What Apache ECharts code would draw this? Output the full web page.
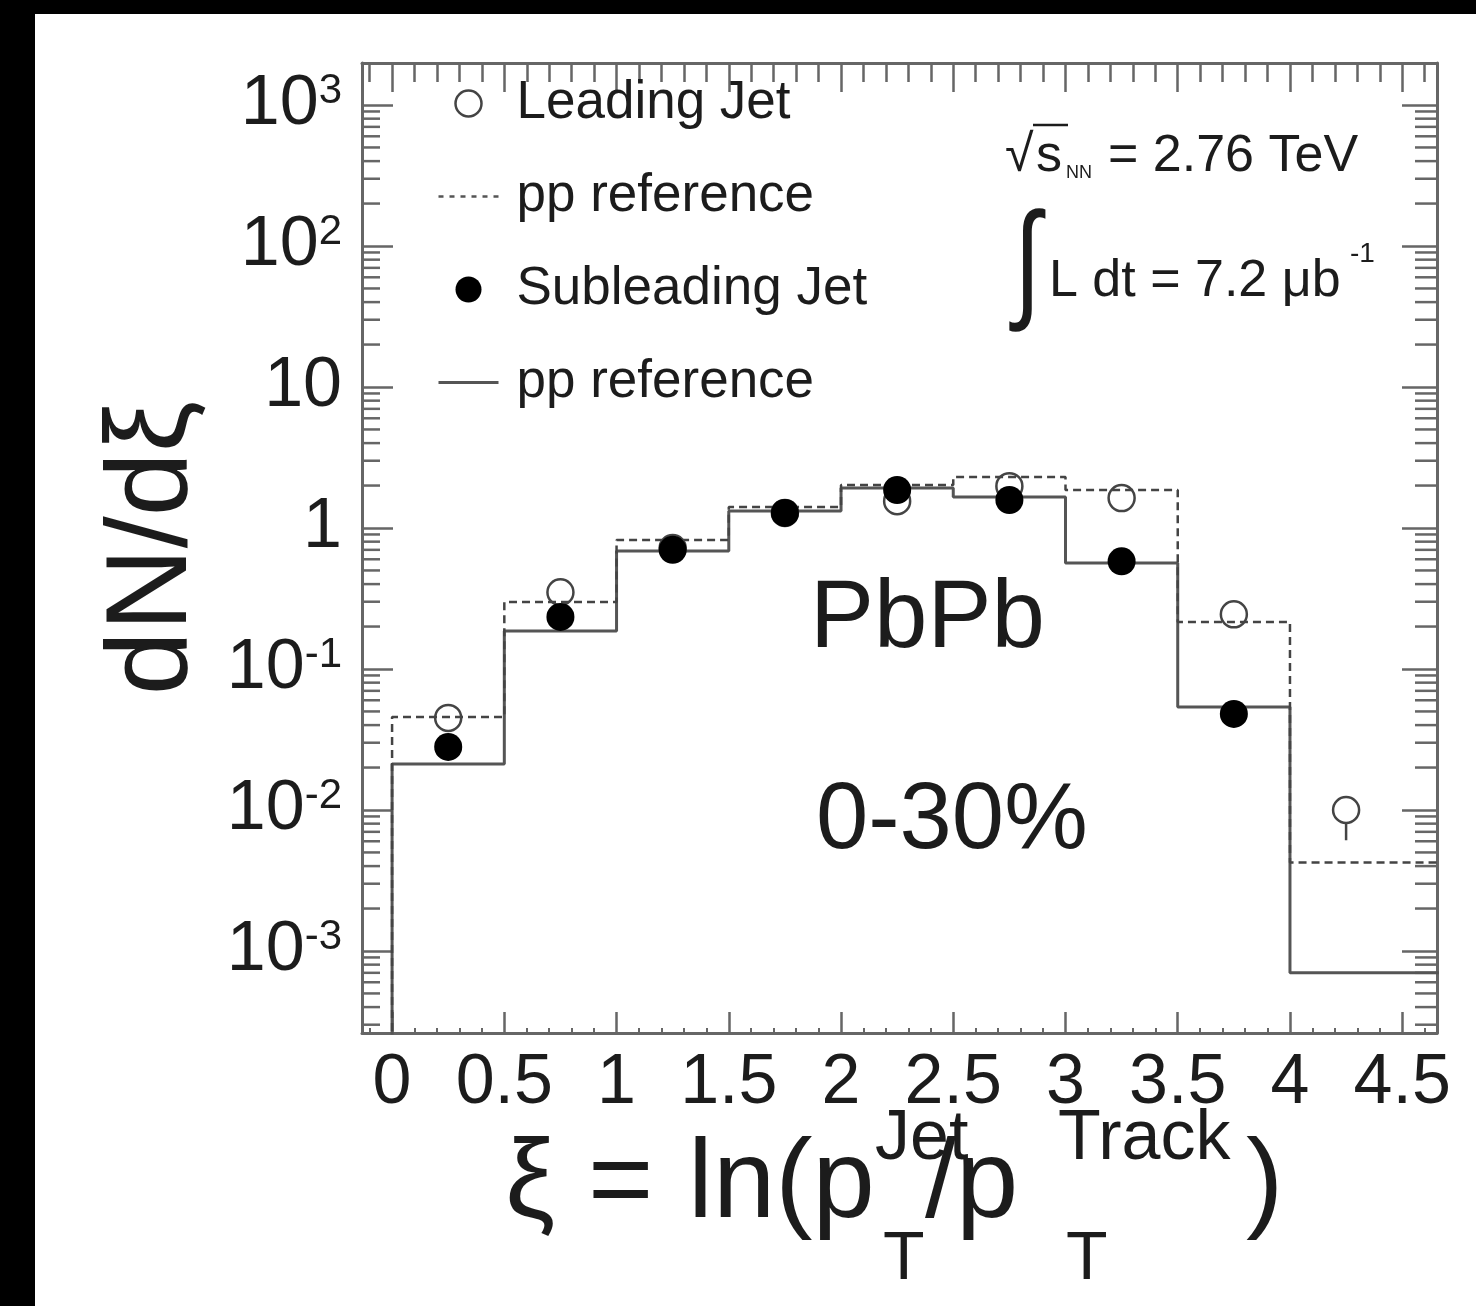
<!DOCTYPE html>
<html><head><meta charset="utf-8">
<script src="https://cdn.jsdelivr.net/npm/echarts@6/dist/echarts.min.js"></script>
<style>html,body{margin:0;padding:0;background:#000;} #chart{width:1476px;height:1306px;}</style>
</head><body><div id="chart"></div>
<script>
// ---- data ----
const binEdges = [0, 0.5, 1, 1.5, 2, 2.5, 3, 3.5, 4, 5];
const binCenters = [0.25, 0.75, 1.25, 1.75, 2.25, 2.75, 3.25, 3.75, 4.25];
const leadingJet = [0.045, 0.35, 0.72, 1.28, 1.55, 1.98, 1.63, 0.244, 0.0100];
const leadingErrLow = [null, null, null, null, null, null, null, null, 0.0061];
const subleadingJet = [0.028, 0.234, 0.70, 1.28, 1.86, 1.58, 0.58, 0.048, null];
const leadingPP = [0.0457, 0.299, 0.822, 1.41, 2.02, 2.30, 1.86, 0.215, 0.00424];
const subleadingPP = [0.0212, 0.186, 0.687, 1.32, 1.92, 1.66, 0.565, 0.0537, 0.000702];
const xTickValues = [0, 0.5, 1, 1.5, 2, 2.5, 3, 3.5, 4, 4.5];
const xTickLabels = ['0', '0.5', '1', '1.5', '2', '2.5', '3', '3.5', '4', '4.5'];
const yTickExponents = [-3, -2, -1, 0, 1, 2, 3];
const yTickLabels = ['{b|10}{s|-3}', '{b|10}{s|-2}', '{b|10}{s|-1}', '{b|1}', '{b|10}', '{b|10}{s|2}', '{b|10}{s|3}'];
const yMinorMantissas = [2, 3, 4, 5, 6, 7, 8, 9];
const yMinorDecades = [-4, -3, -2, -1, 0, 1, 2, 3];

const X_MIN = -0.134, X_MAX = 4.655;
const Y_MIN = 2.62e-4, Y_MAX = 1986;
const FONT = '"Liberation Sans", Arial, Helvetica, sans-serif';
const TXT = '#1c1c1c';
const FRAME = '#666';

function stepData(vals) {
  const d = [[binEdges[0], Y_MIN / 10]];
  vals.forEach((v, i) => d.push([binEdges[i], v]));
  d.push([binEdges[vals.length], vals[vals.length - 1]]);
  return d;
}
const minorVals = [];
yMinorDecades.forEach(k => yMinorMantissas.forEach(m => minorVals.push([0, m * Math.pow(10, k)])));

const chart = echarts.init(document.getElementById('chart'), null, {renderer: 'canvas'});

function txt(text, x, y, size, extra) {
  return Object.assign({
    type: 'text', x: x, y: y, z: 50,
    style: {text: text, font: 'normal ' + size + 'px ' + FONT, fill: TXT,
      align: 'left', verticalAlign: 'middle', textAlign: 'left', textVerticalAlign: 'middle'}
  }, extra || {});
}

const option = {
  backgroundColor: '#fff',
  animation: false,
  grid: {left: 362, top: 63, width: 1075, height: 970, containLabel: false, outerBoundsMode: 'none'},
  xAxis: [{
    type: 'value', min: X_MIN, max: X_MAX, splitNumber: 10, position: 'bottom',
    axisLine: {show: true, onZero: false, lineStyle: {color: FRAME, width: 3}},
    axisTick: {show: true, inside: true, length: 21, lineStyle: {color: FRAME, width: 2.5}},
    minorTick: {show: true, splitNumber: 5, length: 5, lineStyle: {color: FRAME, width: 2}},
    splitLine: {show: false},
    axisLabel: {show: true, margin: 16, showMinLabel: false, showMaxLabel: false,
      fontSize: 70, fontFamily: FONT, color: TXT,
      formatter: v => { const i = xTickValues.findIndex(t => Math.abs(t - v) < 1e-6); return i >= 0 ? xTickLabels[i] : ''; }}
  }, {
    type: 'value', min: X_MIN, max: X_MAX, splitNumber: 10, position: 'top',
    axisLine: {show: true, onZero: false, lineStyle: {color: FRAME, width: 3}},
    axisTick: {show: true, inside: true, length: 29, lineStyle: {color: FRAME, width: 2.5}},
    minorTick: {show: true, splitNumber: 5, length: 19, lineStyle: {color: FRAME, width: 2.5}},
    splitLine: {show: false}, axisLabel: {show: false}
  }],
  yAxis: [{
    type: 'log', logBase: 10, min: Y_MIN, max: Y_MAX, splitNumber: 7, position: 'left',
    name: 'dN/dξ', nameLocation: 'middle', nameRotate: 90, nameGap: 150, nameMoveOverlap: false,
    nameTextStyle: {fontSize: 115, fontFamily: FONT, color: TXT},
    axisLine: {show: true, onZero: false, lineStyle: {color: FRAME, width: 3}},
    axisTick: {show: true, inside: true, length: 31, lineStyle: {color: FRAME, width: 2.5}},
    splitLine: {show: false},
    axisLabel: {show: true, margin: 20, showMinLabel: false, showMaxLabel: false,
      formatter: v => { const e = Math.round(Math.log10(v)); const i = yTickExponents.indexOf(e);
        return (i >= 0 && Math.abs(Math.log10(v) - e) < 1e-6) ? yTickLabels[i] : ''; },
      rich: {
        b: {fontSize: 70, lineHeight: 70, fontFamily: FONT, color: TXT},
        s: {fontSize: 42, lineHeight: 36, verticalAlign: 'top', fontFamily: FONT, color: TXT}
      }}
  }, {
    type: 'log', logBase: 10, min: Y_MIN, max: Y_MAX, splitNumber: 7, position: 'right',
    axisLine: {show: true, onZero: false, lineStyle: {color: FRAME, width: 3}},
    axisTick: {show: true, inside: true, length: 35, lineStyle: {color: FRAME, width: 2.5}},
    splitLine: {show: false}, axisLabel: {show: false}
  }],
  legend: {
    show: true, orient: 'vertical', left: 432, top: 72, itemWidth: 60, itemHeight: 26, itemGap: 40,
    selectedMode: false, align: 'left',
    formatter: name => name.split(' (')[0],
    textStyle: {fontSize: 53, lineHeight: 52, fontFamily: FONT, color: TXT, padding: [0, 0, 0, 13]},
    data: [
      {name: 'Leading Jet', icon: 'circle', itemStyle: {color: 'rgba(255,255,255,0)', borderColor: '#444', borderWidth: 2.5}},
      {name: 'pp reference (leading)', itemStyle: {color: 'rgba(0,0,0,0)', opacity: 0, borderWidth: 0},
        lineStyle: {color: '#555', width: 2.5, type: [5, 6]}},
      {name: 'Subleading Jet', icon: 'circle', itemStyle: {color: '#000', borderWidth: 0}},
      {name: 'pp reference (subleading)', itemStyle: {color: 'rgba(0,0,0,0)', opacity: 0, borderWidth: 0},
        lineStyle: {color: '#555', width: 3, type: 'solid'}}
    ]
  },
  series: [
    {name: 'pp reference (leading)', type: 'line', step: 'end', xAxisIndex: 0, yAxisIndex: 0,
      data: stepData(leadingPP), symbol: 'none', showSymbol: false, clip: true, z: 3,
      itemStyle: {color: '#444'},
      lineStyle: {color: '#444', width: 2.5, type: [8, 5]}},
    {name: 'pp reference (subleading)', type: 'line', step: 'end', xAxisIndex: 0, yAxisIndex: 0,
      data: stepData(subleadingPP), symbol: 'none', showSymbol: false, clip: true, z: 2,
      itemStyle: {color: '#555'},
      lineStyle: {color: '#555', width: 3, type: 'solid'}},
    {name: 'Leading Jet', type: 'scatter', xAxisIndex: 0, yAxisIndex: 0, z: 5,
      data: binCenters.map((x, i) => [x, leadingJet[i]]).filter(p => p[1] != null),
      symbol: 'circle', symbolSize: 26,
      itemStyle: {color: 'rgba(255,255,255,0)', borderColor: '#444', borderWidth: 2.5, opacity: 1}},
    {name: 'Subleading Jet', type: 'scatter', xAxisIndex: 0, yAxisIndex: 0, z: 6,
      data: binCenters.map((x, i) => [x, subleadingJet[i]]).filter(p => p[1] != null),
      symbol: 'circle', symbolSize: 28, itemStyle: {color: '#000', opacity: 1}},
    {name: 'errLeading', type: 'custom', xAxisIndex: 0, yAxisIndex: 0, z: 4, silent: true,
      data: binCenters.map((x, i) => [x, leadingJet[i], leadingErrLow[i]]).filter(p => p[2] != null),
      renderItem: (params, api) => {
        const p0 = api.coord([api.value(0), api.value(1)]);
        const p1 = api.coord([api.value(0), api.value(2)]);
        return {type: 'line', shape: {x1: p0[0], y1: p0[1] + 14, x2: p1[0], y2: p1[1]},
          style: {stroke: '#444', lineWidth: 2.5}};
      }},
    {name: 'yMinorTicks', type: 'custom', xAxisIndex: 0, yAxisIndex: 0, z: 1, silent: true, clip: false,
      data: minorVals,
      renderItem: (params, api) => {
        const cs = params.coordSys;
        const y = api.coord([0, api.value(1)])[1];
        if (y < cs.y || y > cs.y + cs.height) return null;
        return {type: 'group', children: [
          {type: 'line', shape: {x1: cs.x, y1: y, x2: cs.x + 18, y2: y}, style: {stroke: FRAME, lineWidth: 2.5}},
          {type: 'line', shape: {x1: cs.x + cs.width - 22, y1: y, x2: cs.x + cs.width, y2: y}, style: {stroke: FRAME, lineWidth: 2.5}}
        ]};
      }}
  ],
  graphic: [
    {type: 'rect', shape: {x: 0, y: 0, width: 1476, height: 14}, style: {fill: '#000'}, z: 100},
    {type: 'rect', shape: {x: 0, y: 0, width: 35, height: 1306}, style: {fill: '#000'}, z: 100},
    // sqrt(s_NN) = 2.76 TeV
    txt('√', 1005, 157, 52),
    {type: 'line', shape: {x1: 1033, y1: 125, x2: 1068, y2: 125}, style: {stroke: TXT, lineWidth: 2.5}, z: 50},
    txt('s', 1036, 157, 52),
    txt('NN', 1066, 173, 18),
    txt('= 2.76 TeV', 1108, 157, 52),
    // integral L dt
    txt('∫', 1014, 268, 130, {scaleX: 0.75, originX: 0, originY: 0}),
    txt('L dt = 7.2 μb', 1049, 282, 52),
    txt('-1', 1350, 254, 28),
    // PbPb 0-30%
    txt('PbPb', 810, 621, 96),
    txt('0-30%', 816, 822, 94),
    // x axis title
    txt('ξ', 505, 1186, 112),
    txt('=', 588, 1186, 112),
    txt('ln(p', 688, 1186, 112),
    txt('Jet', 875, 1140, 70),
    txt('T', 883, 1260, 68),
    txt('/p', 925, 1186, 112),
    txt('Track', 1058, 1140, 70),
    txt('T', 1066, 1260, 68),
    txt(')', 1246, 1186, 112)
  ]
};
chart.setOption(option);
</script></body></html>
